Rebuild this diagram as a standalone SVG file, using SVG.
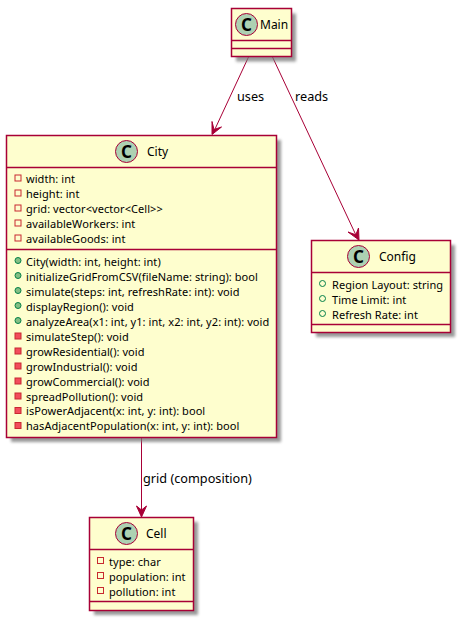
<svg xmlns="http://www.w3.org/2000/svg" width="460" height="619" viewBox="0 0 460 619">
<style>
text{font-family:"Noto Sans",sans-serif;fill:#000}
.t{font-size:12px}
.m{font-size:11px;letter-spacing:.06px}
.l{font-size:12.700px}
.b{fill:#FEFECE;stroke:#A80036;stroke-width:1.500}
.d{stroke:#A80036;stroke-width:1.500;fill:none}
.c{fill:#ADD1B2;stroke:#A80036;stroke-width:1}
.g{font-family:"Noto Sans",sans-serif;font-weight:bold;font-size:17px;text-anchor:middle}
.po{fill:none;stroke:#038048}
.pf{fill:#84BE84;stroke:#038048}
.so{fill:none;stroke:#C82930}
.sf{fill:#F24D5C;stroke:#C82930}
.e{fill:none;stroke:#A80036;stroke-width:1}
.a{fill:#A80036;stroke:#A80036;stroke-width:1}
.h{fill:#777;opacity:.75}
</style>
<defs>
<filter id="s" x="-10%" y="-10%" width="125%" height="125%"><feGaussianBlur stdDeviation="1.500"/></filter>
</defs>
<g id="connectors">
<path class="e" d="M248.500 57 L212.700 134"/>
<path class="a" d="M212 134.500 L221.500 127 L214 129.500 L212 121.500 Z"/>
<path class="e" d="M272.500 57 L358 239.500"/>
<path class="a" d="M359 240 L358.500 228 L355.800 234.800 L348 232 Z"/>
<path class="e" d="M141.500 437.500 L141.500 516"/>
<path class="a" d="M141.500 517 L146.500 506 L141.500 510 L136.500 506 Z"/>
<text class="l" x="237" y="101">uses</text>
<text class="l" x="295" y="101">reads</text>
<text class="l" x="143" y="483">grid (composition)</text>
</g>
<g id="Main">
<rect class="h" x="236" y="13.500" width="60" height="48" filter="url(#s)"/>
<rect class="b" x="231.500" y="8.500" width="60" height="48"/>
<path class="d" d="M231.500 40.500H291.500M231.500 48.500H291.500"/>
<circle class="c" cx="246.500" cy="24.500" r="11"/>
<text class="g" x="246.500" y="30.500">C</text>
<text class="t" x="260" y="29">Main</text>
</g>
<g id="City">
<rect class="h" x="11" y="140" width="270" height="302" filter="url(#s)"/>
<rect class="b" x="6.500" y="135.500" width="270" height="302"/>
<path class="d" d="M6.500 167.500H276.500M6.500 249.500H276.500"/>
<circle class="c" cx="126.500" cy="151.500" r="11"/>
<text class="g" x="126.500" y="157.500">C</text>
<text class="t" x="147" y="156">City</text>
<rect class="so" x="15" y="175" width="6" height="6"/>
<rect class="so" x="15" y="190" width="6" height="6"/>
<rect class="so" x="15" y="205" width="6" height="6"/>
<rect class="so" x="15" y="220" width="6" height="6"/>
<rect class="so" x="15" y="235" width="6" height="6"/>
<text class="m" x="26" y="183">width: int</text>
<text class="m" x="26" y="198">height: int</text>
<text class="m" x="26" y="213">grid: vector&lt;vector&lt;Cell&gt;&gt;</text>
<text class="m" x="26" y="228">availableWorkers: int</text>
<text class="m" x="26" y="243">availableGoods: int</text>
<circle class="pf" cx="18" cy="260.500" r="3"/>
<circle class="pf" cx="18" cy="275.500" r="3"/>
<circle class="pf" cx="18" cy="290.500" r="3"/>
<circle class="pf" cx="18" cy="305.500" r="3"/>
<circle class="pf" cx="18" cy="320.500" r="3"/>
<rect class="sf" x="15" y="333" width="6" height="6"/>
<rect class="sf" x="15" y="348" width="6" height="6"/>
<rect class="sf" x="15" y="363" width="6" height="6"/>
<rect class="sf" x="15" y="378" width="6" height="6"/>
<rect class="sf" x="15" y="393" width="6" height="6"/>
<rect class="sf" x="15" y="407.500" width="6" height="6"/>
<rect class="sf" x="15" y="422.500" width="6" height="6"/>
<text class="m" x="26" y="266">City(width: int, height: int)</text>
<text class="m" x="26" y="281">initializeGridFromCSV(fileName: string): bool</text>
<text class="m" x="26" y="296">simulate(steps: int, refreshRate: int): void</text>
<text class="m" x="26" y="311">displayRegion(): void</text>
<text class="m" x="26" y="326">analyzeArea(x1: int, y1: int, x2: int, y2: int): void</text>
<text class="m" x="26" y="341">simulateStep(): void</text>
<text class="m" x="26" y="356">growResidential(): void</text>
<text class="m" x="26" y="371">growIndustrial(): void</text>
<text class="m" x="26" y="386">growCommercial(): void</text>
<text class="m" x="26" y="401">spreadPollution(): void</text>
<text class="m" x="26" y="415">isPowerAdjacent(x: int, y: int): bool</text>
<text class="m" x="26" y="430">hasAdjacentPopulation(x: int, y: int): bool</text>
</g>
<g id="Config">
<rect class="h" x="316" y="245" width="139" height="92" filter="url(#s)"/>
<rect class="b" x="311.500" y="240.500" width="139" height="92"/>
<path class="d" d="M311.500 272.500H450.500M311.500 324.500H450.500"/>
<circle class="c" cx="358.500" cy="256.500" r="11"/>
<text class="g" x="358.500" y="262.500">C</text>
<text class="t" x="379" y="261">Config</text>
<circle class="po" cx="322.500" cy="283.500" r="3"/>
<circle class="po" cx="322.500" cy="298.500" r="3"/>
<circle class="po" cx="322.500" cy="313.500" r="3"/>
<text class="m" x="332" y="289">Region Layout: string</text>
<text class="m" x="332" y="304">Time Limit: int</text>
<text class="m" x="332" y="319">Refresh Rate: int</text>
</g>
<g id="Cell">
<rect class="h" x="94" y="522" width="104" height="93" filter="url(#s)"/>
<rect class="b" x="89.500" y="517.500" width="104" height="93"/>
<path class="d" d="M89.500 549.500H193.500M89.500 601.500H193.500"/>
<circle class="c" cx="126.500" cy="533.500" r="11"/>
<text class="g" x="126.500" y="539.500">C</text>
<text class="t" x="146" y="538">Cell</text>
<rect class="so" x="97.500" y="557.500" width="6" height="6"/>
<rect class="so" x="97.500" y="572.500" width="6" height="6"/>
<rect class="so" x="97.500" y="587.500" width="6" height="6"/>
<text class="m" x="109" y="566">type: char</text>
<text class="m" x="109" y="581">population: int</text>
<text class="m" x="109" y="596">pollution: int</text>
</g>
</svg>
